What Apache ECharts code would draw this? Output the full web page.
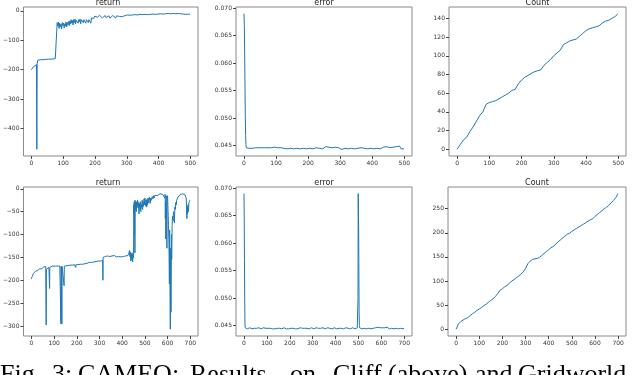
<!DOCTYPE html>
<html>
<head>
<meta charset="utf-8">
<script src="https://cdn.jsdelivr.net/npm/echarts@6/dist/echarts.min.js"></script>
<style>
html,body{margin:0;padding:0;background:#fff;}
#main{width:640px;height:375px;}
</style>
</head>
<body>
<div id="main"></div>
<script>
// --- data ---
// top row: Cliff (500 episodes)
var return1 = [
  [0,-200],[2,-196],[4,-194],[6,-190],[8,-188],[10,-187],[12,-185],[14,-186],[16,-183],[17,-470],[18,-180],[20,-168],[24,-167],[28,-166],[32,-167],[36,-166],[40,-166],[45,-165],[50,-165],[55,-164],[60,-165],[65,-164],[70,-163],[75,-162],[80,-161],
  [81,-40],[83,-52],[85,-38],[87,-60],[89,-42],[91,-55],[93,-45],[95,-62],[97,-40],[99,-50],[101,-42],[103,-58],[105,-44],[107,-52],[109,-38],[111,-55],[113,-40],[115,-48],[117,-36],[119,-50],
  [121,-34],[123,-45],[125,-30],[127,-42],[129,-33],[131,-48],[133,-30],[135,-40],[137,-28],[139,-44],[141,-32],[143,-38],[145,-27],[147,-42],[149,-30],[151,-37],[153,-28],[155,-44],[157,-30],[159,-36],
  [161,-26],[163,-40],[165,-30],[167,-35],[169,-27],[171,-42],[173,-30],[175,-36],[177,-28],[179,-40],[181,-30],[183,-35],[185,-28],[187,-42],[189,-24],[191,-30],[193,-20],[196,-26],[199,-18],[202,-24],
  [205,-17],[208,-22],[211,-19],[214,-15],[217,-21],[220,-17],[223,-24],[226,-18],[229,-20],[232,-16],[235,-23],[238,-18],[241,-21],[244,-17],[247,-25],[250,-19],[253,-22],[256,-16],[259,-20],[262,-18],
  [265,-24],[268,-17],[271,-20],[274,-16],[277,-19],[280,-22],[283,-17],[286,-20],[289,-15],[292,-19],[295,-16],[298,-18],[302,-14],[306,-17],[310,-15],[314,-19],[318,-14],[322,-16],[326,-13],[330,-17],
  [334,-14],[338,-16],[342,-12],[346,-15],[350,-13],[354,-16],[358,-12],[362,-15],[366,-13],[370,-14],[374,-12],[378,-15],[382,-11],[386,-14],[390,-12],[394,-13],[398,-11],[402,-13],[406,-10],[410,-12],
  [414,-11],[418,-13],[422,-10],[426,-12],[430,-9],[434,-11],[438,-10],[442,-12],[446,-9],[450,-11],[454,-10],[458,-12],[462,-9],[466,-11],[470,-10],[474,-9],[478,-11],[482,-10],[486,-12],[490,-10],[494,-11],[499,-12]
];
var error1Head = [[0,0.0690],[1,0.0668],[2,0.0620],[3,0.0560],[4,0.0505],[5,0.0468],[6,0.0452],[7,0.0446],[8,0.0445]];
// every 5 steps from step 10
var error1Tail = [
  0.0446,0.0445,0.0446,0.0445,0.0446,0.0446,0.0445,0.0446,0.0445,0.0446,
  0.0445,0.0446,0.0444,0.0446,0.0445,0.0446,0.0445,0.0447,0.0445,0.0446,
  0.0444,0.0446,0.0447,0.0445,0.0446,0.0444,0.0447,0.0445,0.0446,0.0444,
  0.0446,0.0445,0.0447,0.0444,0.0446,0.0445,0.0446,0.0444,0.0447,0.0445,
  0.0446,0.0444,0.0447,0.0446,0.0448,0.0445,0.0447,0.0444,0.0446,0.0448,
  0.0445,0.0447,0.0444,0.0446,0.0445,0.0447,0.0444,0.0446,0.0445,0.0443,
  0.0446,0.0445,0.0447,0.0444,0.0446,0.0445,0.0447,0.0444,0.0446,0.0445,
  0.0447,0.0446,0.0448,0.0445,0.0446,0.0444,0.0447,0.0445,0.0446,0.0444,
  0.0446,0.0445,0.0447,0.0444,0.0446,0.0447,0.0445,0.0448,0.0445,0.0446,
  0.0444,0.0447,0.0446,0.0448,0.0445,0.0449,0.0444,0.0446,0.0444
];
// every 10 steps, last one at step 499
var count1 = [0,5,10,13,19,24,30,36,40,48,50,51,52,54,56,58,60,63,64,70,74,77,79,81,83,84,85,90,93,96,100,103,106,112,114,116,117,118,121,124,127,129,130,131,132,135,137,138,140,142,145];

// bottom row: Gridworld (700 episodes)
var return2 = [
  [0,-197],[3,-192],[6,-188],[9,-185],[12,-183],[15,-182],[18,-180],[21,-181],[24,-178],[27,-179],[30,-176],[33,-178],[36,-175],[39,-176],[42,-173],[45,-175],[48,-172],[51,-173],[54,-171],[57,-170],[60,-169],[63,-170],[64,-172],[65,-298],[66,-176],
  [68,-175],[71,-173],[74,-174],[77,-172],[79,-171],[80,-218],[81,-172],[84,-170],[88,-171],[92,-169],[96,-170],[100,-169],[105,-169],[110,-168],[115,-169],[120,-168],[125,-169],[129,-168],[130,-295],[131,-170],
  [132,-290],[133,-169],[134,-296],[135,-170],[138,-168],[141,-169],[143,-170],[144,-212],[145,-169],[150,-168],[160,-168],[170,-167],[180,-167],[190,-166],[194,-166],[195,-172],[196,-166],[205,-166],[215,-165],[225,-165],
  [235,-164],[245,-163],[250,-162],[255,-161],[258,-163],[262,-160],[266,-161],[270,-159],[275,-160],[280,-158],[285,-159],[290,-157],[295,-158],[300,-157],[305,-158],[310,-156],[314,-157],[315,-200],[316,-150],[318,-148],
  [322,-147],[326,-148],[330,-146],[335,-147],[340,-146],[345,-148],[350,-146],[355,-147],[360,-148],[365,-146],[370,-147],[375,-149],[380,-146],[385,-148],[390,-147],[395,-149],[400,-147],[405,-148],[410,-146],[415,-147],
  [420,-148],[425,-146],[428,-150],[430,-140],[432,-135],[434,-148],[436,-138],[438,-158],[440,-142],[442,-155],[444,-140],[446,-160],[448,-145],[450,-150],[451,-35],[452,-55],[453,-28],[454,-100],[455,-30],[456,-140],
  [457,-25],[458,-45],[460,-30],[462,-50],[464,-28],[466,-38],[468,-25],[470,-42],[472,-30],[474,-55],[476,-32],[478,-45],[480,-28],[482,-50],[484,-35],[486,-40],[488,-25],[490,-45],[492,-30],[494,-38],
  [496,-22],[498,-35],[500,-20],[502,-30],[504,-38],[506,-25],[508,-40],[510,-22],[512,-35],[514,-20],[516,-30],[518,-28],[520,-18],[523,-32],[526,-20],[529,-25],[532,-17],[535,-22],[538,-15],[541,-20],
  [544,-14],[547,-18],[550,-13],[554,-15],[558,-12],[562,-13],[566,-11],[570,-12],[574,-11],[578,-12],[582,-11],[586,-13],[588,-20],[589,-12],[590,-65],[591,-30],[592,-110],[593,-40],[594,-15],[596,-85],
  [597,-130],[598,-20],[600,-15],[602,-16],[604,-80],[606,-120],[608,-208],[609,-90],[610,-170],[611,-250],[612,-307],[613,-200],[614,-130],[615,-270],[616,-150],[617,-100],[618,-155],[620,-80],[622,-60],[624,-70],
  [626,-50],[628,-55],[630,-75],[632,-40],[634,-45],[636,-30],[638,-35],[640,-25],[643,-22],[646,-18],[650,-15],[655,-13],[660,-12],[665,-11],[670,-11],[675,-12],[680,-13],[682,-20],[684,-45],[685,-65],
  [686,-40],[688,-55],[690,-35],[692,-50],[694,-30],[696,-28],[699,-25]
];
var error2Head = [[0,0.0690],[1,0.0640],[2,0.0570],[3,0.0500],[4,0.0455],[5,0.0446]];
// every 5 steps from step 10 to 495
var error2Mid = [
  0.0445,0.0444,0.0445,0.0446,0.0445,0.0444,0.0446,0.0445,0.0447,0.0445,
  0.0444,0.0446,0.0445,0.0444,0.0445,0.0446,0.0444,0.0445,0.0446,0.0445,
  0.0444,0.0445,0.0446,0.0444,0.0445,0.0444,0.0446,0.0445,0.0444,0.0445,
  0.0446,0.0444,0.0445,0.0446,0.0445,0.0444,0.0445,0.0444,0.0446,0.0445,
  0.0444,0.0445,0.0446,0.0444,0.0445,0.0444,0.0445,0.0446,0.0444,0.0445,
  0.0446,0.0445,0.0444,0.0445,0.0446,0.0444,0.0445,0.0446,0.0445,0.0444,
  0.0445,0.0446,0.0444,0.0445,0.0447,0.0445,0.0444,0.0446,0.0445,0.0444,
  0.0445,0.0446,0.0444,0.0445,0.0446,0.0444,0.0445,0.0446,0.0445,0.0444,
  0.0446,0.0445,0.0444,0.0445,0.0446,0.0444,0.0445,0.0446,0.0444,0.0445,
  0.0446,0.0444,0.0445,0.0446,0.0445,0.0444,0.0445,0.0446
];
var error2Spike = [[497,0.0446],[498,0.0500],[499,0.0690],[500,0.0690],[501,0.0620],[502,0.0540],[503,0.0475],[504,0.0450],[505,0.0446]];
// every 5 steps from step 510 to 695
var error2Tail = [
  0.0446,0.0444,0.0447,0.0445,0.0446,0.0444,0.0446,0.0445,0.0447,0.0444,
  0.0446,0.0445,0.0444,0.0446,0.0445,0.0447,0.0444,0.0446,0.0445,0.0446,
  0.0444,0.0446,0.0445,0.0447,0.0445,0.0444,0.0446,0.0445,0.0448,0.0444,
  0.0446,0.0445,0.0446,0.0444,0.0447,0.0445,0.0446,0.0444
];
// every 10 steps, last one at step 699
var count2 = [0,11,16,19,22,24,28,32,35,39,42,45,49,52,56,60,63,68,74,81,84,88,91,95,100,103,107,110,114,119,126,136,141,145,146,147,149,153,157,161,165,169,172,176,181,185,189,193,197,199,203,206,209,212,215,218,221,224,227,229,234,238,242,246,250,253,257,262,267,273,281];

var ticksX1 = [0,100,200,300,400,500];
var ticksX2 = [0,100,200,300,400,500,600,700];
var ticksReturn1 = [0,-100,-200,-300,-400];
var ticksReturn2 = [0,-50,-100,-150,-200,-250,-300];
var ticksError = [0.045,0.050,0.055,0.060,0.065,0.070];
var ticksCount1 = [0,20,40,60,80,100,120,140];
var ticksCount2 = [0,50,100,150,200,250];

// --- build series data ---
function stepped(values, start, step, last){
    var out = [];
    for(var i = 0; i < values.length; i++){
        var x = start + i*step;
        if(last !== undefined && x > last) x = last;
        out.push([x, values[i]]);
    }
    return out;
}
var error1 = error1Head.concat(stepped(error1Tail, 10, 5, 499));
var error2 = error2Head.concat(stepped(error2Mid, 10, 5), error2Spike, stepped(error2Tail, 510, 5), [[699,0.0445]]);
var countData1 = stepped(count1, 0, 10, 499);
var countData2 = stepped(count2, 0, 10, 699);

var font = 'DejaVu Sans';
var lineColor = '#1f77b4';
var frameColor = '#8a8a8a';

var grids = [
    {left:18, top:7, width:180, height:149},
    {left:236, top:7, width:176, height:149},
    {left:449, top:7, width:177, height:149},
    {left:18, top:187, width:180, height:149},
    {left:236, top:187, width:176, height:149},
    {left:448, top:187, width:178, height:149}
];
var titles = ['return','error','Count','return','error','Count'];

function minusFmt(v){
    return v < 0 ? '\u2212' + (-v) : String(v);
}
function errFmt(v){
    return v.toFixed(3);
}
function axisFor(idx, min, max, ticks, fmt){
    return {
        type: 'value',
        gridIndex: idx,
        min: min,
        max: max,
        axisLine: {show: false, onZero: false},
        splitLine: {show: false},
        axisTick: {show: true, length: 3, customValues: ticks, lineStyle: {color: '#444', width: 1}},
        axisLabel: {
            customValues: ticks,
            fontFamily: font,
            fontSize: 6,
            color: '#333',
            margin: 4,
            formatter: fmt || minusFmt
        }
    };
}

var xAxes = [
    axisFor(0, -25, 524, ticksX1),
    axisFor(1, -25, 524, ticksX1),
    axisFor(2, -25, 524, ticksX1),
    axisFor(3, -35, 734, ticksX2),
    axisFor(4, -35, 734, ticksX2),
    axisFor(5, -35, 734, ticksX2)
];
var yAxes = [
    axisFor(0, -493, 13, ticksReturn1),
    axisFor(1, 0.0431, 0.0702, ticksError, errFmt),
    axisFor(2, -7.25, 152.25, ticksCount1),
    axisFor(3, -322, 4, ticksReturn2),
    axisFor(4, 0.0431, 0.0702, ticksError, errFmt),
    axisFor(5, -14, 295, ticksCount2)
];

var seriesData = [return1, error1, countData1, return2, error2, countData2];
var series = [];
for(var i = 0; i < seriesData.length; i++){
    series.push({
        type: 'line',
        xAxisIndex: i,
        yAxisIndex: i,
        data: seriesData[i],
        showSymbol: false,
        symbol: 'none',
        lineStyle: {color: lineColor, width: 1},
        animation: false
    });
}

var graphics = [];
for(var i = 0; i < grids.length; i++){
    var g = grids[i];
    graphics.push({
        type: 'text',
        x: g.left + g.width/2,
        y: g.top - 4,
        style: {
            text: titles[i],
            fontFamily: font,
            fontSize: 8,
            fill: '#222',
            align: 'center',
            verticalAlign: 'middle'
        }
    });
}
// caption below the figure (cut off by the picture edge)
var captionWords = [
    ['Fig.', 0], ['3:', 52], ['CAMEO:', 78], ['Results', 190], ['on', 290],
    ['Cliff', 333], ['(above)', 388], ['and', 475], ['Gridworld', 518]
];
for(var i = 0; i < captionWords.length; i++){
    graphics.push({
        type: 'text',
        x: captionWords[i][1],
        y: 362,
        style: {
            text: captionWords[i][0],
            fontFamily: 'Liberation Serif',
            fontSize: 26,
            fill: '#000',
            align: 'left',
            verticalAlign: 'top'
        }
    });
}

var chart = echarts.init(document.getElementById('main'), null, {renderer: 'canvas'});
var option = {
    backgroundColor: '#fff',
    animation: false,
    grid: grids.map(function(g){
        return {
            left: g.left, top: g.top, width: g.width, height: g.height,
            show: true, borderColor: frameColor, borderWidth: 1, backgroundColor: '#fff',
            containLabel: false
        };
    }),
    xAxis: xAxes,
    yAxis: yAxes,
    series: series,
    graphic: graphics
};
chart.setOption(option);
</script>
</body>
</html>
